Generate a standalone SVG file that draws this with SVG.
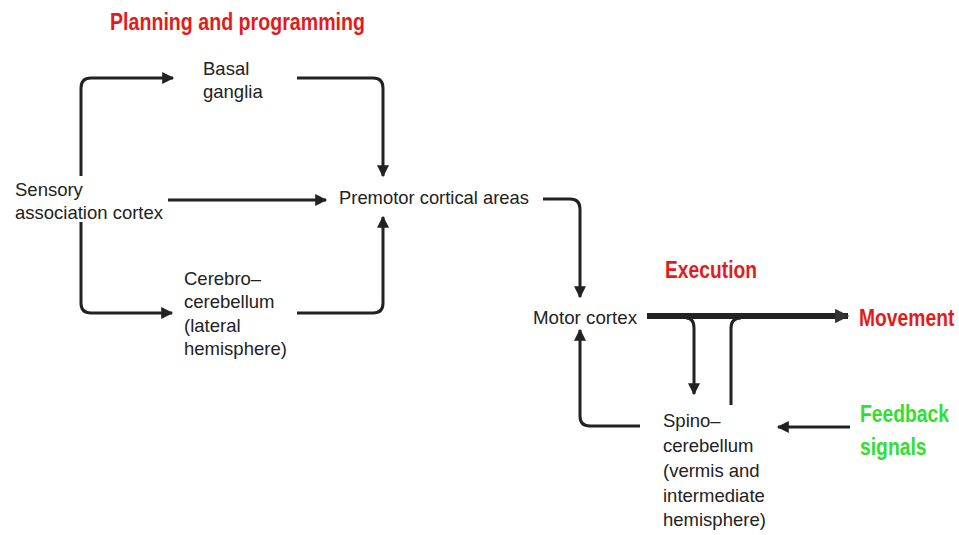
<svg xmlns="http://www.w3.org/2000/svg" width="959" height="535" viewBox="0 0 959 535">
<defs>
<marker id="ah" viewBox="0 0 10 10" refX="9" refY="5" markerWidth="5" markerHeight="4" orient="auto" markerUnits="strokeWidth">
<path d="M0,0 L10,5 L0,10 Z" fill="#222"/>
</marker>
<marker id="ahs" viewBox="0 0 10 10" refX="9" refY="5" markerWidth="3.6" markerHeight="2.4" orient="auto" markerUnits="strokeWidth">
<path d="M0,0 L10,5 L0,10 Z" fill="#333"/>
</marker>
</defs>
<style>
.t{font-family:"Liberation Sans",Arial,sans-serif;font-size:18.5px;fill:#222}
.h{font-family:"Liberation Sans",Arial,sans-serif;font-weight:bold;font-size:23px}
.red{fill:#e41b1b}
.grn{fill:#2fe02f}
.c{fill:none;stroke:#222;stroke-width:3;stroke-linecap:butt;stroke-linejoin:round}
</style>
<rect width="959" height="535" fill="#fff"/>
<text class="h red" x="110" y="30" textLength="255" lengthAdjust="spacingAndGlyphs">Planning and programming</text>
<text class="h red" x="665" y="278" textLength="92" lengthAdjust="spacingAndGlyphs">Execution</text>
<text class="h red" transform="translate(859,326) scale(0.84,1)">Movement</text>
<text class="h grn" transform="translate(860,422) scale(0.84,1)">Feedback</text>
<text class="h grn" transform="translate(860,455) scale(0.84,1)">signals</text>
<g id="basal"><text class="t" x="203" y="75">Basal</text><text class="t" x="203" y="98">ganglia</text></g>
<g id="sensory"><text class="t" x="15" y="196">Sensory</text><text class="t" x="15" y="219" textLength="148" lengthAdjust="spacingAndGlyphs">association cortex</text></g>
<g id="premotor"><text class="t" x="339" y="204" textLength="190" lengthAdjust="spacingAndGlyphs">Premotor cortical areas</text></g>
<g id="cerebro"><text class="t" x="184" y="285">Cerebro–</text><text class="t" x="184" y="308">cerebellum</text><text class="t" x="184" y="332">(lateral</text><text class="t" x="184" y="355">hemisphere)</text></g>
<g id="motor"><text class="t" x="533" y="324" textLength="104" lengthAdjust="spacingAndGlyphs">Motor cortex</text></g>
<g id="spino"><text class="t" x="663" y="427">Spino–</text><text class="t" x="663" y="452">cerebellum</text><text class="t" x="663" y="477">(vermis and</text><text class="t" x="663" y="502">intermediate</text><text class="t" x="663" y="526">hemisphere)</text></g>
<g id="connectors">
<path class="c" d="M81,176 V88 Q81,78 91,78 H173" marker-end="url(#ah)"/>
<path class="c" d="M297,78 H373 Q383,78 383,88 V176" marker-end="url(#ah)"/>
<path class="c" d="M168,200 H326" marker-end="url(#ah)"/>
<path class="c" d="M81,222 V303 Q81,313 91,313 H172" marker-end="url(#ah)"/>
<path class="c" d="M297,313 H373 Q383,313 383,303 V217" marker-end="url(#ah)"/>
<path class="c" d="M543,199 H570 Q580,199 580,209 V297" marker-end="url(#ah)"/>
<path class="c" d="M640,426 H590 Q580,426 580,416 V330" marker-end="url(#ah)"/>
<path class="c" d="M850,427 H778" marker-end="url(#ah)"/>
<path class="c" d="M686,318 Q694,318 694,328 V394" marker-end="url(#ah)"/>
<path class="c" d="M731,405 V328 Q731,318 741,318"/>
<path class="c" d="M647,316 H848" style="stroke-width:6" marker-end="url(#ahs)"/>
</g>
</svg>
